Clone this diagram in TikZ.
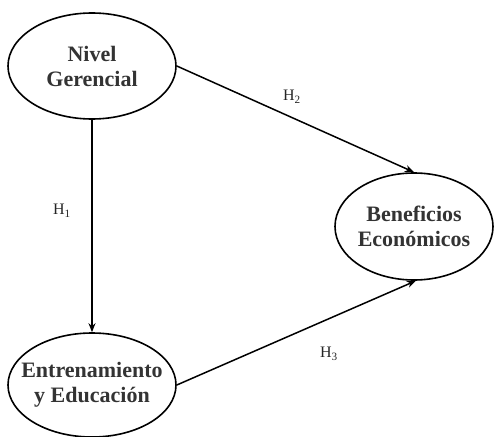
\documentclass[tikz,border=0pt]{standalone}
\usepackage{fontspec}
\setmainfont{Liberation Serif}
\usetikzlibrary{shapes.geometric,arrows.meta}
\begin{document}
\begin{tikzpicture}[x=1pt,y=-1pt,
  construct/.style={ellipse,draw=black,line width=1.6pt,fill=white,
    font=\fontsize{22}{25}\selectfont\bfseries,text=black!80,align=center,
    inner xsep=-14pt,inner ysep=0pt},
  link/.style={line width=1.5pt,-{Stealth[length=9pt,width=7pt]}},
  hyp/.style={font=\fontsize{16}{18}\selectfont,text=black!85}]
\useasboundingbox (0,0) rectangle (494,436);
\node[construct,minimum width=168pt,minimum height=106pt] (ng) at (92,66) {Nivel\\Gerencial};
\node[construct,minimum width=168pt,minimum height=104pt] (ee) at (92,385) {Entrenamiento\\y Educación};
\node[construct,minimum width=158pt,minimum height=107pt] (be) at (414,226.5) {Beneficios\\Económicos};
\draw[link] (ng.south) -- (ee.north);
\draw[link] (ng.east) -- (be.north);
\draw[link] (ee.east) -- (be.-88);
\node[hyp] (h1) at (62,211) {H\textsubscript{1}};
\node[hyp] (h2) at (292,97) {H\textsubscript{2}};
\node[hyp] (h3) at (329,354) {H\textsubscript{3}};
\end{tikzpicture}
\end{document}
